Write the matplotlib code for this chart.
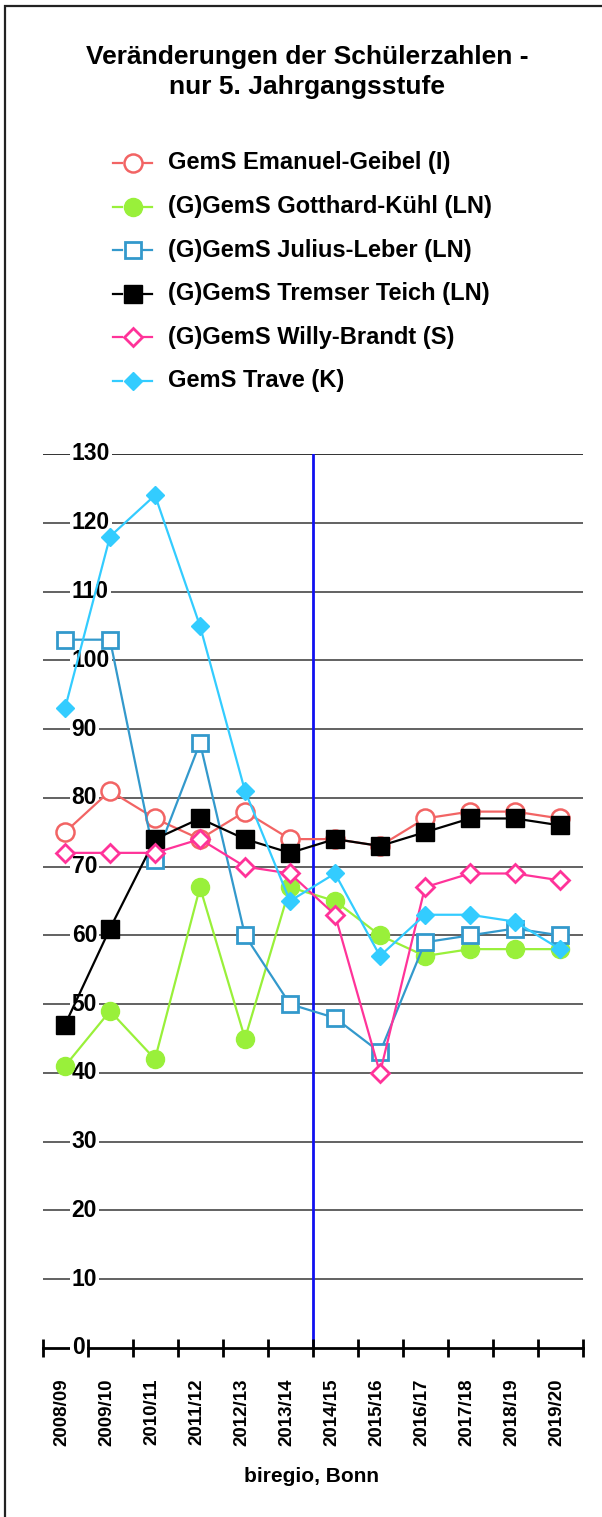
import matplotlib
matplotlib.use("Agg")
import matplotlib.pyplot as plt
from matplotlib.lines import Line2D
from matplotlib.patches import Rectangle

plt.rcParams['font.family'] = ['Liberation Sans', 'DejaVu Sans']
plt.rcParams['font.weight'] = 'bold'

years = ["2008/09", "2009/10", "2010/11", "2011/12", "2012/13", "2013/14",
         "2014/15", "2015/16", "2016/17", "2017/18", "2018/19", "2019/20"]

emanuel_geibel = [75, 81, 77, 74, 78, 74, 74, 73, 77, 78, 78, 77]
gotthard_kuehl = [41, 49, 42, 67, 45, 67, 65, 60, 57, 58, 58, 58]
julius_leber = [103, 103, 71, 88, 60, 50, 48, 43, 59, 60, 61, 60]
tremser_teich = [47, 61, 74, 77, 74, 72, 74, 73, 75, 77, 77, 76]
willy_brandt = [72, 72, 72, 74, 70, 69, 63, 40, 67, 69, 69, 68]
trave = [93, 118, 124, 105, 81, 65, 69, 57, 63, 63, 62, 58]

names = ["GemS Emanuel-Geibel (I)", "(G)GemS Gotthard-Kühl (LN)",
         "(G)GemS Julius-Leber (LN)", "(G)GemS Tremser Teich (LN)",
         "(G)GemS Willy-Brandt (S)", "GemS Trave (K)"]
y_ticks = [0, 10, 20, 30, 40, 50, 60, 70, 80, 90, 100, 110, 120, 130]
title = "Veränderungen der Schülerzahlen -\nnur 5. Jahrgangsstufe"
source = "biregio, Bonn"
divider_pos = 5.5

series = [emanuel_geibel, gotthard_kuehl, julius_leber, tremser_teich, willy_brandt, trave]
styles = [
    dict(color="#F26464", marker="o", ms=13, mfc="white", mec="#F26464", mew=1.8),
    dict(color="#99F03A", marker="o", ms=13, mfc="#99F03A", mec="#99F03A", mew=1),
    dict(color="#3399CC", marker="s", ms=12, mfc="white", mec="#3399CC", mew=2),
    dict(color="black", marker="s", ms=12.5, mfc="black", mec="black", mew=1),
    dict(color="#FF3399", marker="D", ms=9, mfc="white", mec="#FF3399", mew=2),
    dict(color="#33CCFF", marker="D", ms=9.5, mfc="#33CCFF", mec="#33CCFF", mew=1),
]

W, H = 602, 1517
fig = plt.figure(figsize=(W / 100, H / 100), dpi=100)


def fx(x):
    return x / W


def fy(y):
    return 1 - y / H


# frame of the figure (left and top edges visible)
border = Rectangle((fx(4.5), fy(1600)), fx(700), fy(6) - fy(1600), transform=fig.transFigure,
                   fill=False, edgecolor="#222222", linewidth=1.6)
fig.add_artist(border)

left, right = 42.5, 582.5
top, bottom = 454, 1348
ax = fig.add_axes([fx(left), fy(bottom), fx(right) - fx(left), fy(top) - fy(bottom)])
ax.set_xlim(-0.5, 11.5)
ax.set_ylim(0, 130)
ax.axis("off")

# grid lines
for v in y_ticks[1:]:
    ax.axhline(v, color="#222222" if v == 130 else "#555555", lw=1.3, zorder=1)

# divider
ax.plot([divider_pos, divider_pos], [0, 130], color="#1010F0", lw=2.0, zorder=2)

# x axis
ax.axhline(0, color="black", lw=2.0, zorder=5, clip_on=False)
for b in range(len(years) + 1):
    ax.plot([b - 0.5, b - 0.5], [-1.3, 1.3], color="black", lw=2.0, zorder=5, clip_on=False,
            solid_capstyle="butt")

# y tick labels with white box
for v in y_ticks:
    ax.text(0.15, v, str(v), fontsize=16.5, fontweight="bold", ha="left", va="center",
            zorder=6, bbox=dict(facecolor="white", edgecolor="none", pad=1.5))

xs = list(range(len(years)))
for i, (vals, st) in enumerate(zip(series, styles)):
    ax.plot(xs, vals, linewidth=1.6, zorder=10 + i, clip_on=False, **st)

# x labels
for i, lab in enumerate(years):
    ax.text(i - 0.07, -4.4, lab, rotation=90, fontsize=13.5, fontweight="bold",
            ha="center", va="top", clip_on=False)

fig.text(fx(311), fy(1477), source, fontsize=15, fontweight="bold", ha="center", va="center")

fig.text(fx(307), fy(72), title, fontsize=19, fontweight="bold", ha="center", va="center",
         linespacing=1.3)

# legend
leg_y0, leg_dy = 163, 43.6
for i, (name, st) in enumerate(zip(names, styles)):
    y = leg_y0 + i * leg_dy
    for x0, x1 in [(113, 122), (143, 152)]:
        fig.add_artist(Line2D([fx(x0), fx(x1)], [fy(y), fy(y)], transform=fig.transFigure,
                              linewidth=1.6, color=st["color"]))
    mk = Line2D([fx(132.5)], [fy(y)], transform=fig.transFigure, linestyle="none",
                **{k: v for k, v in st.items() if k != "color"})
    fig.add_artist(mk)
    fig.text(fx(168), fy(y), name, fontsize=17, fontweight="bold", ha="left", va="center")

fig.savefig("out.png", dpi=100)
